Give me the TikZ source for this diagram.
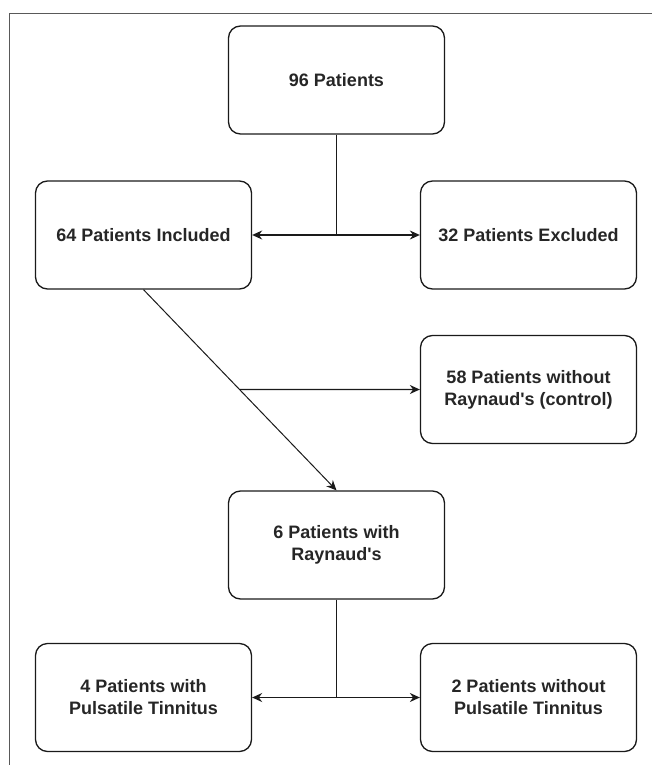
\documentclass[tikz,border=0pt]{standalone}
\usepackage{fontspec}
\setmainfont{Liberation Sans}
\usetikzlibrary{arrows.meta,calc}
\definecolor{txt}{HTML}{262626}
\definecolor{ln}{HTML}{1A1A1A}
\begin{document}
\begin{tikzpicture}[x=1pt,y=-1pt,
  box/.style={draw=ln,line width=1.3pt,rounded corners=12pt,minimum width=216pt,minimum height=108pt,
    align=center,text=txt,font=\fontsize{18}{22}\selectfont\bfseries,inner sep=0pt},
  conn/.style={draw=ln,line width=1.3pt},
  arr/.style={conn,-{Stealth[length=10pt,width=9pt]}}]
\useasboundingbox (0,0) rectangle (652,765);
\draw[line width=1pt,draw=gray!70!black] (9,765) -- (9,14) -- (652,14);
\node[box] (n96) at (336.5,80) {96 Patients};
\node[box] (inc) at (143.5,235) {64 Patients Included};
\node[box] (exc) at (528.5,235) {32 Patients Excluded};
\node[box] (ctrl) at (528.5,389.5) {58 Patients without\\Raynaud\textquotesingle s (control)};
\node[box] (ray) at (336.5,545) {6 Patients with\\Raynaud\textquotesingle s};
\node[box] (pt) at (143.5,697.5) {4 Patients with\\Pulsatile Tinnitus};
\node[box] (npt) at (528.5,697.5) {2 Patients without\\Pulsatile Tinnitus};
\coordinate (j1) at (n96.south |- inc.east);
\draw[conn] (n96.south) -- (j1);
\draw[arr] (j1) -- (inc.east);
\draw[arr] (j1) -- (exc.west);
\draw[arr,line width=1pt] (inc.south) -- (ray.north);
\coordinate (j2) at (intersection of inc.south--ray.north and ctrl.west--ctrl.east);
\draw[arr] (j2) -- (ctrl.west);
\coordinate (j3) at (ray.south |- pt.east);
\draw[conn] (ray.south) -- (j3);
\draw[arr] (j3) -- (pt.east);
\draw[arr] (j3) -- (npt.west);
\end{tikzpicture}
\end{document}
